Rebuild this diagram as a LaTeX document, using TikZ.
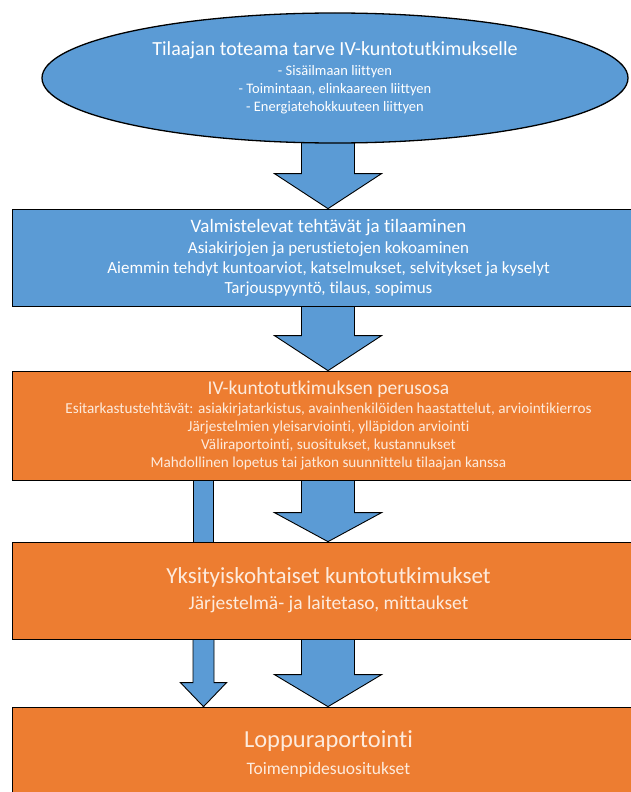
\documentclass[tikz,border=0pt]{standalone}
\usepackage{fontspec}
\setmainfont{Carlito}[Ligatures=NoCommon]
\usetikzlibrary{shapes.geometric,positioning,calc,backgrounds}
\definecolor{office blue}{HTML}{5B9BD5}
\definecolor{office orange}{HTML}{ED7D31}
\definecolor{cream}{HTML}{FDEBDD}

\begin{document}
\begin{tikzpicture}[x=1pt,y=-1pt,
    block arrow/.style={draw=black, line width=0.9pt, fill=office blue, line join=miter},
    stage box/.style={rectangle, draw=black, line width=1pt, minimum width=633pt, inner sep=0pt, align=center},
    blue stage/.style={stage box, fill=office blue, text=white},
    orange stage/.style={stage box, fill=office orange, text=cream}
]
    \useasboundingbox (0,0) rectangle (631,792);
    \clip (0,0) rectangle (631,792);

    \node[ellipse, draw=black, line width=1.3pt, fill=office blue, text=white,
        minimum width=586pt, minimum height=130pt, inner sep=0pt, align=center,
        font=\fontsize{14.5}{18}\selectfont
    ] (need) at (335,78) {{\fontsize{20}{22}\selectfont Tilaajan toteama tarve IV-kuntotutkimukselle}\\[2pt]
        - Sisäilmaan liittyen\\
        - Toimintaan, elinkaareen liittyen\\
        - Energiatehokkuuteen liittyen};

    \node[blue stage, minimum height=97pt, below=65pt of need, xshift=-6.5pt,
        font=\fontsize{17}{20}\selectfont
    ] (prep) {{\fontsize{19}{21}\selectfont Valmistelevat tehtävät ja tilaaminen}\\[1pt]
        Asiakirjojen ja perustietojen kokoaminen\\
        Aiemmin tehdyt kuntoarviot, katselmukset, selvitykset ja kyselyt\\
        Tarjouspyyntö, tilaus, sopimus};

    \node[orange stage, minimum height=109pt, below=64pt of prep,
        font=\fontsize{15.2}{18}\selectfont
    ] (basic) {{\fontsize{19.5}{21}\selectfont IV-kuntotutkimuksen perusosa}\\[1pt]
        Esitarkastustehtävät: asiakirjatarkistus, avainhenkilöiden haastattelut, arviointikierros\\
        Järjestelmien yleisarviointi, ylläpidon arviointi\\
        Väliraportointi, suositukset, kustannukset\\
        Mahdollinen lopetus tai jatkon suunnittelu tilaajan kanssa};

    \node[orange stage, minimum height=97pt, below=61pt of basic,
        font=\fontsize{19.5}{26}\selectfont
    ] (detail) {{\fontsize{23}{26}\selectfont Yksityiskohtaiset kuntotutkimukset}\\
        Järjestelmä- ja laitetaso, mittaukset};

    \node[orange stage, minimum height=94pt, below=67pt of detail,
        font=\fontsize{17.5}{27}\selectfont
    ] (final) {{\fontsize{24.5}{27}\selectfont Loppuraportointi}\\
        Toimenpidesuositukset};

    \coordinate (arrow axis) at (328,0);
    \coordinate (bar axis) at (203.5,0);

    \begin{pgfonlayer}{background}
        \foreach \src/\dst/\len in {need/prep/35,prep/basic/35,basic/detail/29,detail/final/32}
            \draw[block arrow] ($(\src.south -| arrow axis)+(-26.5,-6)$)
                -- ($(\dst.north -| arrow axis)+(-26.5,-\len)$) -- ++(-27,0)
                -- (\dst.north -| arrow axis)
                -- ($(\dst.north -| arrow axis)+(53.5,-\len)$) -- ++(-27,0)
                -- ($(\src.south -| arrow axis)+(26.5,-6)$) -- cycle;

        \draw[block arrow] ($(basic.south -| bar axis)+(-10,-6)$) rectangle ($(detail.north -| bar axis)+(10,6)$);

        \draw[block arrow] ($(detail.south -| bar axis)+(-10.5,-6)$)
            -- ($(final.north -| bar axis)+(-10.5,-24)$) -- ++(-12.5,0)
            -- (final.north -| bar axis)
            -- ($(final.north -| bar axis)+(23,-24)$) -- ++(-12.5,0)
            -- ($(detail.south -| bar axis)+(10.5,-6)$) -- cycle;
    \end{pgfonlayer}
\end{tikzpicture}
\end{document}
